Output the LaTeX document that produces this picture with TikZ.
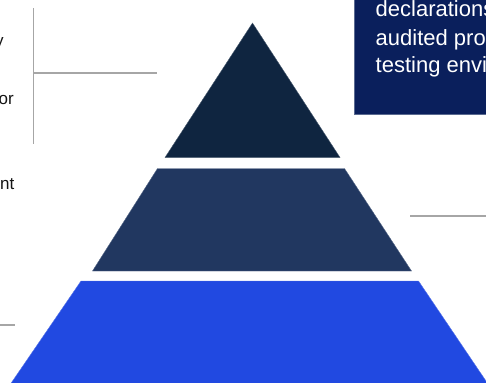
\documentclass[tikz,border=0pt]{standalone}
\usepackage{fontspec}
\setmainfont{Liberation Sans}
\definecolor{tiertop}{HTML}{0F2540}
\definecolor{tiermid}{HTML}{213760}
\definecolor{tierbase}{HTML}{2149E1}
\definecolor{panelnavy}{HTML}{0A1F5C}
\definecolor{paneledge}{HTML}{5A6A90}
\definecolor{leader}{HTML}{A6A6A6}
\definecolor{bodytext}{HTML}{141414}
\begin{document}
\begin{tikzpicture}[x=1pt,y=-1pt,
  tier/.style={draw=#1!75!white, line width=0.4pt, fill=#1},
  leaderline/.style={draw=leader, line width=1.3pt},
  sidetext/.style={inner sep=0pt, anchor=base east, text=bodytext,
    font=\fontsize{17}{20}\selectfont},
  paneltext/.style={inner sep=0pt, anchor=base west, text=white,
    font=\fontsize{22}{26}\selectfont}]
\useasboundingbox (0,0) rectangle (486,382);
\clip (0,0) rectangle (486,382);

% pyramid tiers, top to bottom
\path[tier=tiertop]  (252.5,23) -- (340,157.5) -- (165,157.5) -- cycle;
\path[tier=tiermid]  (157.5,168.5) -- (344.5,168.5) -- (411.5,271) -- (92.5,271) -- cycle;
\path[tier=tierbase] (81,281) -- (418.5,281) -- (488,384) -- (10.5,384) -- cycle;

% callout panel in the upper right corner
\fill[panelnavy] (354,-2) rectangle (490,114);
\draw[paneledge, line width=0.8pt] (354,-2) -- (354,114) -- (490,114);
\node[paneltext] (p1) at (375.5,17)   {declarations};
\node[paneltext] (p2) at (375.5,45.5) {audited pro};
\node[paneltext] (p3) at (375.5,73)   {testing envi};

% labels on the left
\node[sidetext] (s1) at (3.8,47)   {y};
\node[sidetext] (s2) at (14,105)   {or};
\node[sidetext] (s3) at (14.6,189) {nt};

% leader lines
\coordinate (b1top) at (33.5,8);
\coordinate (b1bot) at (33.5,144);
\coordinate (b1mid) at (33.5,73);
\coordinate (b1end) at (157,73);
\draw[leaderline] (b1top) -- (b1bot);
\draw[leaderline] (b1mid) -- (b1end);
\coordinate (r1a) at (410,216);
\coordinate (r1b) at (488,216);
\draw[leaderline] (r1a) -- (r1b);
\coordinate (l3a) at (-2,325);
\coordinate (l3b) at (14.7,325);
\draw[leaderline] (l3a) -- (l3b);
\end{tikzpicture}
\end{document}
